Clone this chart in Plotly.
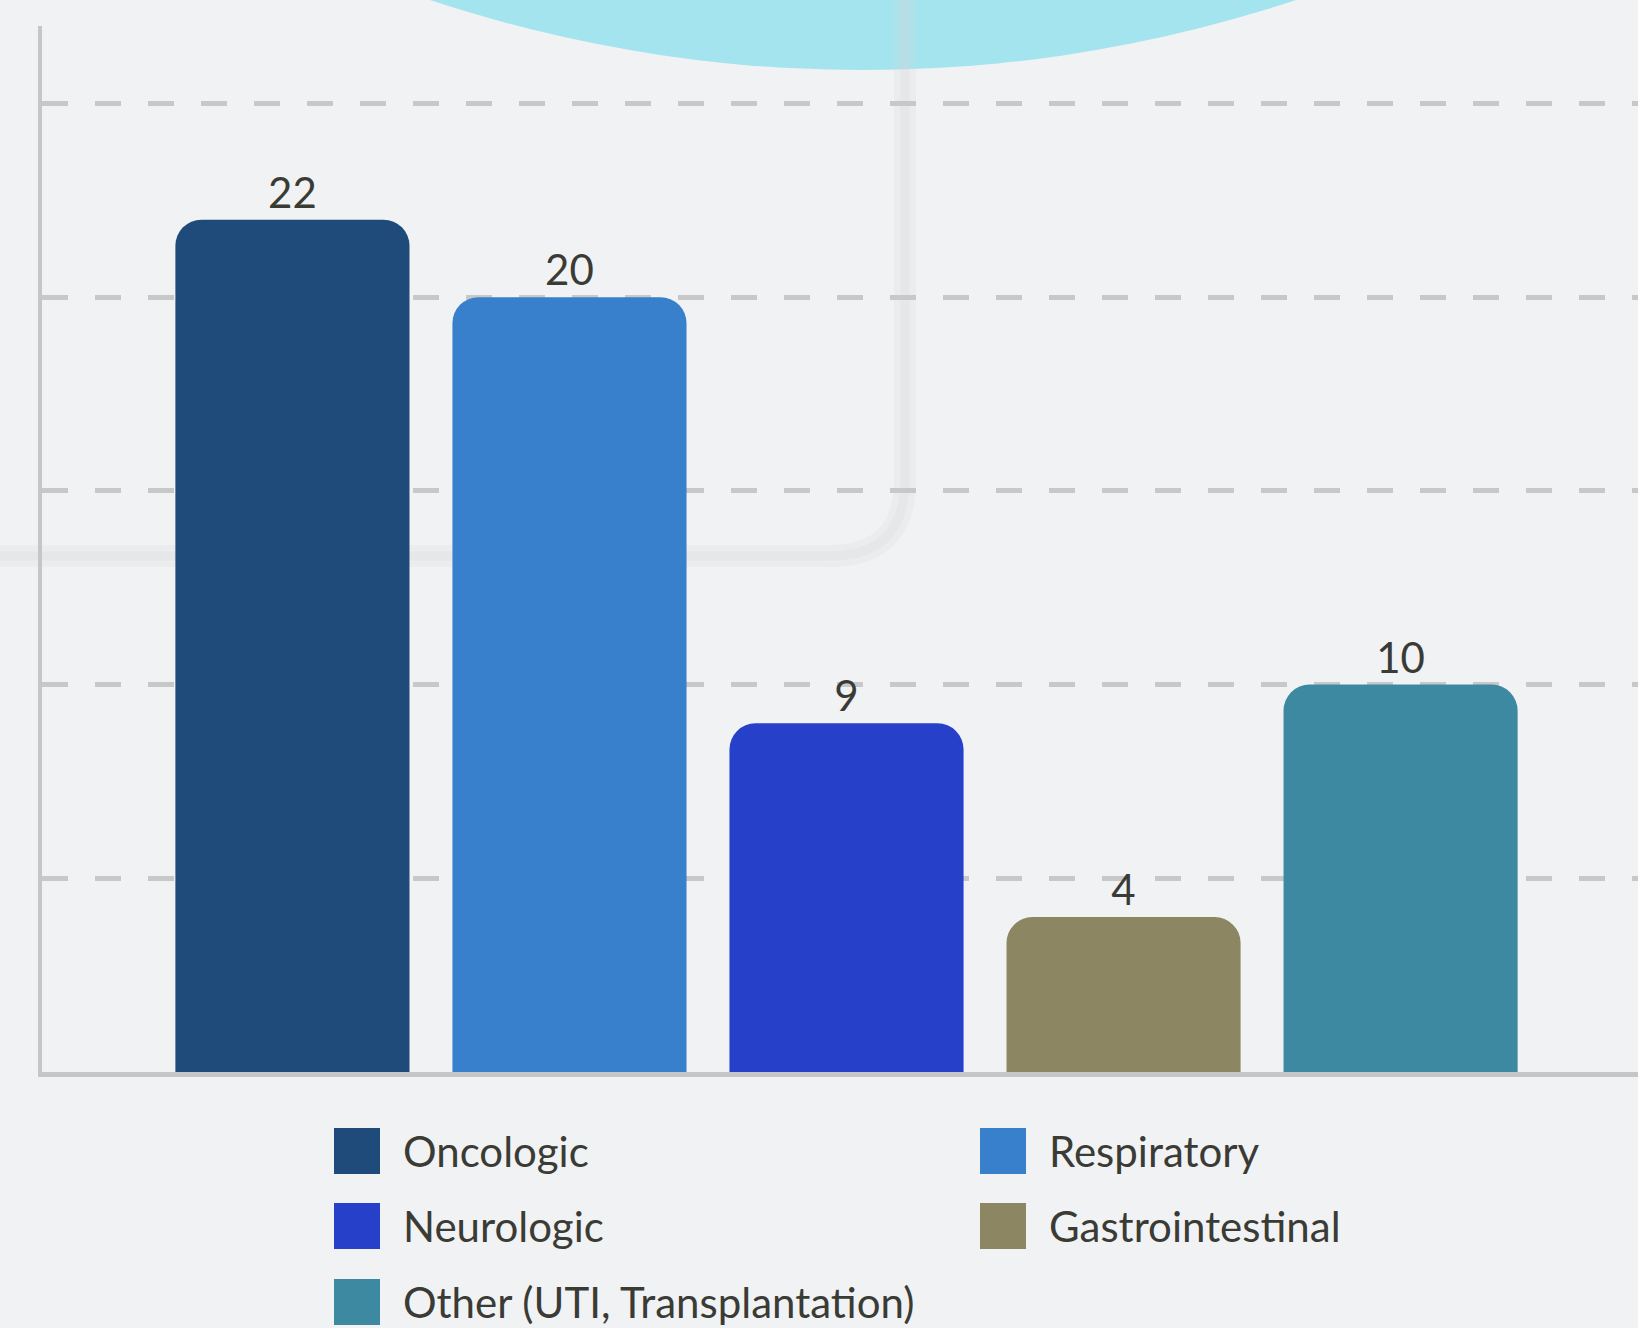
import plotly.graph_objects as go

categories = ["Oncologic", "Respiratory", "Neurologic", "Gastrointestinal", "Other (UTI, Transplantation)"]
values = [22, 20, 9, 4, 10]
colors = ["#1f4b7a", "#3880cc", "#2740c9", "#8c8663", "#3d89a2"]

W, H = 1638, 1328
L, R, T, B = 42, 0, 26, 256
PW, PH = W - L - R, H - T - B
FONT = "Source Sans Pro, Lato, Noto Sans, sans-serif"
TXT = "#3b3b35"

fig = go.Figure()
fig.add_trace(go.Bar(
    x=list(range(len(categories))), y=values,
    marker=dict(color=colors, line=dict(width=0)),
    width=0.845,
    text=[str(v) for v in values], textposition="outside",
    textfont=dict(size=42, color=TXT, family=FONT),
    cliponaxis=False, showlegend=False, hoverinfo="skip",
))

def px(x):
    return (x - L) / PW

def py(y):
    return (H - B - y) / PH

shapes = []
# decorative background: cyan circle and faint panel edge
shapes.append(dict(type="circle", xref="paper", yref="paper", layer="below",
                   x0=px(863 - 1374), x1=px(863 + 1374), y0=py(70), y1=py(70 - 2 * 1374),
                   fillcolor="#a3e4ef", line=dict(width=0)))
panel = f"M {px(905)},{py(0)} L {px(905)},{py(480)} Q {px(905)},{py(556)} {px(830)},{py(556)} L {px(0)},{py(556)}"
shapes.append(dict(type="path", xref="paper", yref="paper", layer="below", path=panel,
                   line=dict(color="rgba(212,214,220,0.22)", width=22)))
shapes.append(dict(type="path", xref="paper", yref="paper", layer="below", path=panel,
                   line=dict(color="rgba(212,214,220,0.25)", width=9)))

annotations = []
sq = 46
rows = [1128, 1203, 1279]
cols = [334, 980]
for i, (c, col) in enumerate(zip(categories, colors)):
    r, k = divmod(i, 2)
    x0, y0 = cols[k], rows[r]
    shapes.append(dict(type="rect", xref="paper", yref="paper",
                       x0=px(x0), x1=px(x0 + sq), y0=py(y0 + sq), y1=py(y0),
                       fillcolor=col, line=dict(width=0)))
    annotations.append(dict(xref="paper", yref="paper", x=px(x0 + sq + 21), y=py(y0 + sq / 2),
                            text=c, showarrow=False, xanchor="left", yanchor="middle",
                            font=dict(size=42, color=TXT, family=FONT)))

fig.update_layout(
    width=W, height=H,
    margin=dict(l=L, r=R, t=T, b=B, pad=0),
    paper_bgcolor="#f1f2f4", plot_bgcolor="rgba(0,0,0,0)",
    barcornerradius=26,
    showlegend=False,
    shapes=shapes, annotations=annotations,
    xaxis=dict(range=[-0.904, 4.857], showticklabels=False, ticks="", showgrid=False,
               zeroline=False, showline=True, linecolor="#c6c6c6", linewidth=5),
    yaxis=dict(range=[0, 27], showticklabels=False, ticks="", tickvals=[5, 10, 15, 20, 25],
               showgrid=True, gridcolor="#c8c8c8", gridwidth=5, griddash="26px,27px",
               zeroline=False, showline=True, linecolor="#c6c6c6", linewidth=4),
    font=dict(family=FONT, color=TXT),
)
fig.write_html("out.html")
